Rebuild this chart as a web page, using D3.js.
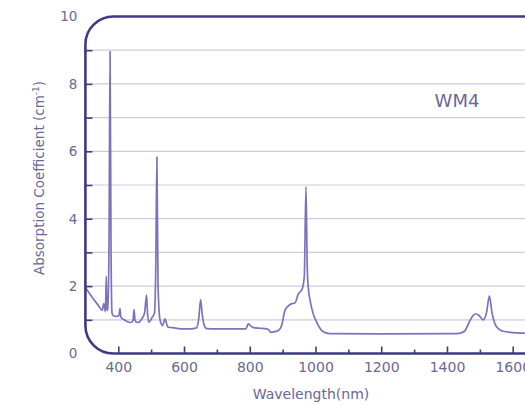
<!DOCTYPE html>
<html>
<head>
<meta charset="utf-8">
<script src="https://cdn.jsdelivr.net/npm/d3@7"></script>
<style>
  body { margin: 0; background: #fff; }
  svg { display: block; }
  text { font-family: "DejaVu Sans", sans-serif; fill: #6b6796; }
</style>
</head>
<body>
<div id="vis-container"></div>
<script>
// spectrum
var wavelength = [300, 320, 340, 351, 356, 361, 363.5, 366, 369, 372, 375, 378, 381, 385, 395,
  402, 405, 408, 418, 427, 438, 445, 448, 451, 458, 466, 473, 480, 486, 489, 492.5, 503, 510,
  514, 517.5, 521, 527, 535, 542, 548, 552, 570, 598, 620, 638, 645, 650.5, 655, 661, 669, 700,
  750, 788, 795.5, 803, 811, 831, 851, 858, 863.5, 877, 887, 897, 907, 914, 927.5, 937.5, 947.5,
  960, 966, 971, 975, 978, 985, 993, 1005, 1019, 1030, 1044, 1200, 1430, 1445, 1455, 1470, 1480,
  1488, 1498, 1510, 1520, 1529, 1537, 1546, 1558, 1571, 1600, 1640, 1700];
var absorption = [1.96, 1.68, 1.42, 1.28, 1.48, 1.24, 2.29, 1.3, 1.28, 3.5, 8.96, 3.0, 1.2, 1.12, 1.1,
  1.12, 1.33, 1.08, 1.0, 0.95, 0.92, 0.98, 1.3, 0.98, 0.92, 0.95, 1.05, 1.2, 1.73, 1.2, 0.93, 1.07, 1.2,
  2.5, 5.83, 2.0, 1.0, 0.83, 1.03, 0.85, 0.78, 0.76, 0.73, 0.73, 0.76, 1.05, 1.6, 1.2, 0.85, 0.74, 0.73,
  0.73, 0.73, 0.88, 0.82, 0.77, 0.75, 0.73, 0.7, 0.63, 0.65, 0.68, 0.83, 1.28, 1.38, 1.48, 1.5, 1.76,
  1.93, 2.3, 4.95, 2.5, 1.97, 1.5, 1.18, 0.9, 0.68, 0.62, 0.59, 0.58, 0.59, 0.62, 0.68, 0.98, 1.13,
  1.18, 1.12, 1.0, 1.2, 1.7, 1.2, 0.88, 0.72, 0.66, 0.62, 0.6, 0.58];

var yLabels = [0, 2, 4, 6, 8, 10];
var yTicks = [1, 2, 3, 4, 5, 6, 7, 8, 9];
var xMajor = [400, 600, 800, 1000, 1200, 1400, 1600];
var xMinor = [500, 700, 900, 1100, 1300, 1500, 1700];
var sampleName = "WM4";

var data = wavelength.map(function (w, i) { return { w: w, a: absorption[i] }; });

var width = 525, height = 404;
var frameColor = "#3f3a84";

var x = d3.scaleLinear().domain([300, 1700]).range([85.4, 545.6]);
var y = d3.scaleLinear().domain([0, 10]).range([353.5, 16.5]);

var svg = d3.select("#vis-container").append("svg")
  .attr("width", width)
  .attr("height", height);

// grid lines
svg.append("g").selectAll("line")
  .data(yTicks)
  .enter()
  .append("line")
  .attr("x1", x(300))
  .attr("x2", width)
  .attr("y1", function (d) { return y(d); })
  .attr("y2", function (d) { return y(d); })
  .attr("stroke", "#cfcae6")
  .attr("stroke-width", 1.2);

// spectrum
var line = d3.line()
  .x(function (d) { return x(d.w); })
  .y(function (d) { return y(d.a); })
  .curve(d3.curveMonotoneX);

svg.append("path")
  .datum(data)
  .attr("d", line)
  .attr("fill", "none")
  .attr("stroke", "#7b73bb")
  .attr("stroke-width", 1.7)
  .attr("stroke-linejoin", "round");

// frame
svg.append("rect")
  .attr("x", x(300))
  .attr("y", y(10))
  .attr("width", 520)
  .attr("height", y(0) - y(10))
  .attr("rx", 28)
  .attr("fill", "none")
  .attr("stroke", frameColor)
  .attr("stroke-width", 2.6);

// left ticks inside the frame
var yTickAxis = svg.append("g")
  .attr("transform", "translate(" + x(300) + ",0)")
  .call(d3.axisRight(y).tickValues(yTicks).tickSize(7).tickFormat(""));
yTickAxis.select(".domain").remove();
yTickAxis.selectAll("line").attr("stroke", frameColor).attr("stroke-width", 1.6);

// left labels
var yLabelAxis = svg.append("g")
  .attr("transform", "translate(" + x(300) + ",0)")
  .call(d3.axisLeft(y).tickValues(yLabels).tickSize(0).tickPadding(8).tickFormat(d3.format("d")));
yLabelAxis.select(".domain").remove();
yLabelAxis.selectAll("text")
  .style("font-size", "13.5px")
  .attr("fill", "#6b6796");

// bottom ticks
var xMajorAxis = svg.append("g")
  .attr("transform", "translate(0," + y(0) + ")")
  .call(d3.axisTop(x).tickValues(xMajor).tickSize(7).tickFormat(""));
xMajorAxis.select(".domain").remove();
xMajorAxis.selectAll("line").attr("stroke", frameColor).attr("stroke-width", 1.6);

var xMinorAxis = svg.append("g")
  .attr("transform", "translate(0," + y(0) + ")")
  .call(d3.axisTop(x).tickValues(xMinor).tickSize(4).tickFormat(""));
xMinorAxis.select(".domain").remove();
xMinorAxis.selectAll("line").attr("stroke", frameColor).attr("stroke-width", 1.6);

var xLabelAxis = svg.append("g")
  .attr("transform", "translate(0," + y(0) + ")")
  .call(d3.axisBottom(x).tickValues(xMajor).tickSize(0).tickPadding(9).tickFormat(d3.format("d")));
xLabelAxis.select(".domain").remove();
xLabelAxis.selectAll("text")
  .style("font-size", "14px")
  .attr("fill", "#6b6796");

// axis titles
svg.append("text")
  .attr("x", 311)
  .attr("y", 399)
  .attr("text-anchor", "middle")
  .style("font-size", "14px")
  .text("Wavelength(nm)");

var yTitle = svg.append("text")
  .attr("transform", "translate(44,178) rotate(-90)")
  .attr("text-anchor", "middle")
  .style("font-size", "13.5px");
yTitle.append("tspan").text("Absorption Coefficient (cm");
yTitle.append("tspan").attr("dy", -5).style("font-size", "9px").text("-1");
yTitle.append("tspan").attr("dy", 5).text(")");

svg.append("text")
  .attr("x", 457)
  .attr("y", 107)
  .attr("text-anchor", "middle")
  .style("font-size", "18px")
  .text(sampleName);
</script>
</body>
</html>
